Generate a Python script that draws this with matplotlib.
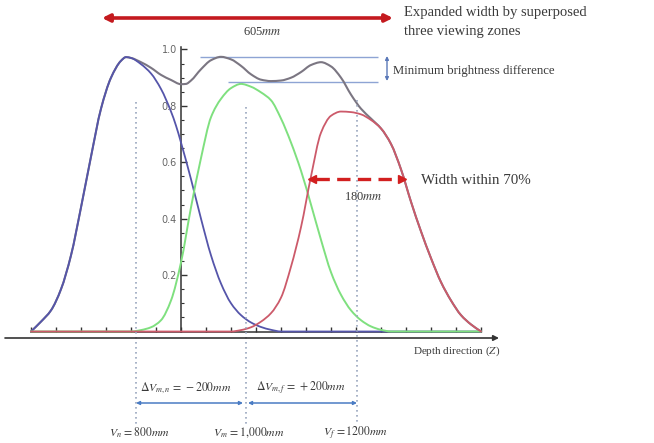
import matplotlib
matplotlib.use("Agg")
import matplotlib.pyplot as plt
from matplotlib.path import Path
from matplotlib.patches import PathPatch

plt.rcParams['font.family'] = ['Liberation Serif', 'DejaVu Serif']
plt.rcParams['mathtext.fontset'] = 'stix'

# ---------------- data (x in tick units, y axis at x=0) ----------------
blue_x = [-6.0, -5.6, -5.2, -4.8, -4.4, -4.0, -3.6, -3.2, -2.8, -2.4, -2.2, -2.0,
          -1.6, -1.2, -0.8, -0.4, -0.2, 0.0, 0.4, 0.8, 1.2, 1.6, 2.0, 2.4, 2.8,
          3.2, 3.6, 4.0, 12.0]
blue_y = [0.0, 0.035, 0.075, 0.15, 0.27, 0.44, 0.62, 0.79, 0.90, 0.96, 0.973, 0.97,
          0.948, 0.915, 0.86, 0.78, 0.73, 0.67, 0.54, 0.40, 0.27, 0.17, 0.10, 0.058, 0.032,
          0.016, 0.006, 0.0, 0.0]

green_x = [-6.0, -2.0, -1.6, -1.2, -0.8, -0.4, 0.0, 0.4, 0.8, 1.2, 1.6, 2.0, 2.4,
           2.8, 3.2, 3.6, 4.0, 4.4, 4.8, 5.2, 5.6, 6.0, 6.4, 6.8, 7.2, 7.6, 8.0, 8.4, 12.0]
green_y = [0.0, 0.0, 0.005, 0.015, 0.04, 0.11, 0.245, 0.44, 0.615, 0.76, 0.825, 0.863, 0.878,
           0.868, 0.848, 0.82, 0.755, 0.67, 0.57, 0.45, 0.325, 0.21, 0.13, 0.075, 0.04, 0.018, 0.006, 0.0, 0.0]

red_x = [-6.0, 2.0, 2.4, 2.8, 3.2, 3.6, 4.0, 4.4, 4.8, 5.2, 5.6, 6.0, 6.4, 6.8, 7.2,
         7.6, 8.0, 8.4, 8.8, 9.2, 9.6, 10.0, 10.4, 10.8, 11.2, 11.6, 12.0]
red_y = [0.0, 0.0, 0.005, 0.015, 0.035, 0.065, 0.12, 0.23, 0.37, 0.55, 0.705, 0.765, 0.78, 0.778, 0.77,
         0.75, 0.72, 0.665, 0.575, 0.46, 0.355, 0.26, 0.175, 0.11, 0.058, 0.025, 0.0]

gray_x = [-6.0, -5.6, -5.2, -4.8, -4.4, -4.0, -3.6, -3.2, -2.8, -2.4, -2.2, -2.0,
          -1.6, -1.2, -0.8, -0.4, 0.0, 0.2, 0.4, 0.8, 1.2, 1.6, 2.0, 2.4, 2.8, 3.2,
          3.6, 4.0, 4.4, 4.8, 5.2, 5.6, 6.0, 6.4, 6.8, 7.2, 7.6, 8.0, 8.4, 8.8, 9.2,
          9.6, 10.0, 10.4, 10.8, 11.2, 11.6, 12.0]
gray_y = [0.0, 0.035, 0.075, 0.15, 0.27, 0.44, 0.62, 0.79, 0.90, 0.96, 0.973, 0.970,
          0.955, 0.935, 0.91, 0.892, 0.877, 0.878, 0.89, 0.93, 0.962, 0.974, 0.965, 0.942, 0.912, 0.893,
          0.888, 0.89, 0.90, 0.92, 0.945, 0.955, 0.94, 0.90, 0.84, 0.79, 0.755, 0.72, 0.665, 0.575, 0.46,
          0.355, 0.26, 0.175, 0.11, 0.058, 0.025, 0.0]

x_ticks = list(range(-6, 13))
y_ticks = [0.2, 0.4, 0.6, 0.8, 1.0]
y_tick_labels = ['0.2', '0.4', '0.6', '0.8', '1.0']
y_minor = [i * 0.05 for i in range(1, 21) if i % 4 != 0]

level_max = 0.973
level_min = 0.885


def smooth_path(xs, ys):
    """Bezier path through the read points (shape-preserving Hermite tangents)."""
    n = len(xs)
    h = [xs[k + 1] - xs[k] for k in range(n - 1)]
    d = [(ys[k + 1] - ys[k]) / h[k] for k in range(n - 1)]
    m = [0.0] * n
    m[0], m[-1] = d[0], d[-1]
    for k in range(1, n - 1):
        if d[k - 1] * d[k] <= 0:
            m[k] = 0.0
        else:
            w1 = 2 * h[k] + h[k - 1]
            w2 = h[k] + 2 * h[k - 1]
            m[k] = (w1 + w2) / (w1 / d[k - 1] + w2 / d[k])
    verts = [(xs[0], ys[0])]
    codes = [Path.MOVETO]
    for k in range(n - 1):
        verts += [(xs[k] + h[k] / 3, ys[k] + m[k] * h[k] / 3),
                  (xs[k + 1] - h[k] / 3, ys[k + 1] - m[k + 1] * h[k] / 3),
                  (xs[k + 1], ys[k + 1])]
        codes += [Path.CURVE4] * 3
    return Path(verts, codes)


# ---------------- figure ----------------
W, H = 654, 443
fig = plt.figure(figsize=(W / 100, H / 100), dpi=100)
ax = fig.add_axes([0, 0, 1, 1])
ax.set_facecolor('white')
X0, SX = 181.0, 25.0     # pixel of x=0, pixels per unit
Y0, SY = 331.5, 282.0    # pixel of y=0, pixels per unit
ax.set_xlim(-X0 / SX, (W - X0) / SX)
ax.set_ylim((Y0 - H) / SY, Y0 / SY)

for s in ['top', 'right']:
    ax.spines[s].set_visible(False)
ax.spines['left'].set_position(('data', 0))
ax.spines['bottom'].set_position(('data', 0))
ax.spines['left'].set_bounds(0, 1.01)
ax.spines['bottom'].set_bounds(-6, 12)
for s in ['left', 'bottom']:
    ax.spines[s].set_color('#333333')
    ax.spines[s].set_linewidth(1.1)

ax.set_xticks(x_ticks)
ax.set_xticklabels([])
ax.tick_params(axis='x', direction='in', length=3.5, width=1, color='#333333')
ax.set_yticks(y_ticks)
ax.set_yticklabels(y_tick_labels, family='DejaVu Sans', fontsize=7, color='#666666')
ax.set_yticks(y_minor, minor=True)
ax.tick_params(axis='y', which='major', direction='in', length=4, width=1, color='#333333', pad=3)
ax.tick_params(axis='y', which='minor', direction='in', length=2.5, width=0.8, color='#333333')

for xs, ys, col, lw, z in [(gray_x, gray_y, '#7b7682', 1.5, 3),
                           (blue_x, blue_y, '#5555aa', 1.3, 4),
                           (green_x, green_y, '#7fe07f', 1.4, 4),
                           (red_x, red_y, '#cc5a6a', 1.3, 4)]:
    ax.add_patch(PathPatch(smooth_path(xs, ys), fill=False, edgecolor=col,
                           lw=lw, zorder=z, capstyle='round', joinstyle='round'))

ax.hlines(level_max, 0.76, 7.88, color='#8ea4d4', lw=1.0, zorder=2)
ax.hlines(level_min, 1.88, 7.88, color='#8ea4d4', lw=1.0, zorder=2)

# ---------------- annotation layer in pixel coordinates ----------------
a2 = fig.add_axes([0, 0, 1, 1])
a2.set_xlim(0, W)
a2.set_ylim(H, 0)
a2.axis('off')
a2.patch.set_alpha(0)

tc = '#3a3a3a'

# long depth axis
a2.annotate('', xy=(499, 338), xytext=(5, 338),
            arrowprops=dict(arrowstyle='-|>', color='#333333', lw=1.2,
                            mutation_scale=8, shrinkA=0, shrinkB=0))
a2.text(413, 351, 'Depth direction ($Z$)', fontsize=8, color=tc, ha='left', va='center')

# top red arrow
a2.annotate('', xy=(393, 18), xytext=(102, 18),
            arrowprops=dict(arrowstyle='<|-|>', color='#c41a1f', lw=2.6,
                            mutation_scale=11, shrinkA=0, shrinkB=0))
a2.text(262, 32, '605$mm$', fontsize=9, color=tc, ha='center', va='center')
a2.text(404, 12, 'Expanded width by superposed', fontsize=10.5,
        color=tc, ha='left', va='center')
a2.text(404, 31, 'three viewing zones', fontsize=10.5,
        color=tc, ha='left', va='center')

# minimum brightness difference
a2.annotate('', xy=(387, 56), xytext=(387, 81),
            arrowprops=dict(arrowstyle='<|-|>', color='#5a78b8', lw=1.0,
                            mutation_scale=5, shrinkA=0, shrinkB=0))
a2.text(393, 71, 'Minimum brightness difference', fontsize=9.2, color=tc,
        ha='left', va='center')

# 70% width arrow
a2.plot([316, 398], [179, 179], color='#d21f1f', lw=2.4, dashes=(4, 2.2), zorder=5)
a2.plot([312], [179], marker='<', color='#d21f1f', ms=6, zorder=5)
a2.plot([402], [179], marker='>', color='#d21f1f', ms=6, zorder=5)
a2.text(363, 197, '180$mm$', fontsize=9, color=tc, ha='center', va='center')
a2.text(421, 181, 'Width within 70%', fontsize=10.8, color=tc, ha='left', va='center')

# dotted viewing-distance lines
for xp, yt in [(136, 102), (246, 107), (357, 100)]:
    a2.plot([xp, xp], [yt, 425], color='#99a6bd', lw=1.2, ls=(0, (1, 2)), zorder=1)

# delta arrows
for xa, xb in [(136, 243), (248, 357)]:
    a2.annotate('', xy=(xa, 403), xytext=(xb, 403),
                arrowprops=dict(arrowstyle='<|-|>', color='#4a7cc4', lw=1.1,
                                mutation_scale=5, shrinkA=0, shrinkB=0))
a2.text(186, 388, r'$\Delta V_{m,n}\,=\,-200mm$', fontsize=8.5, color=tc, ha='center', va='center')
a2.text(301, 388, r'$\Delta V_{m,f}\,=\,+200mm$', fontsize=8.5, color=tc, ha='center', va='center')

a2.text(140, 433, r'$V_n\,=800mm$', fontsize=8.5, color=tc, ha='center', va='center')
a2.text(249, 433, r'$V_m\,=1{,}000mm$', fontsize=8.5, color=tc, ha='center', va='center')
a2.text(356, 433, r'$V_f\,=1200mm$', fontsize=8.5, color=tc, ha='center', va='center')

fig.savefig('out.png', dpi=100)
